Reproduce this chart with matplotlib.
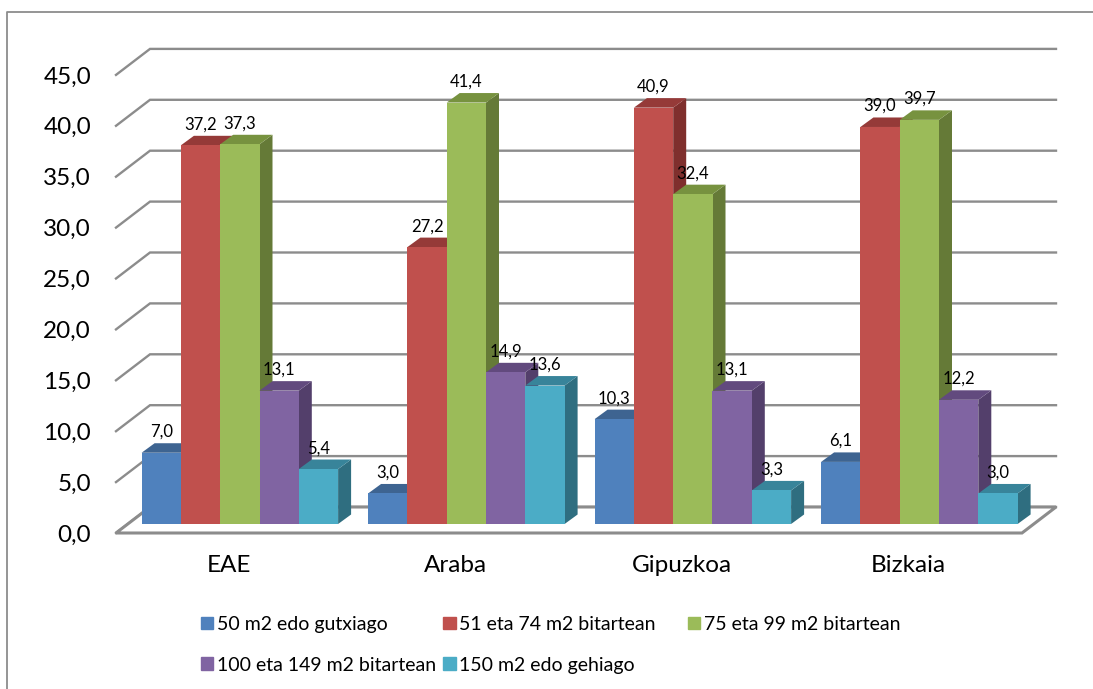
import matplotlib
matplotlib.use("Agg")
import matplotlib.pyplot as plt
import numpy as np
from matplotlib.lines import Line2D
from matplotlib.patches import Polygon, Patch

plt.rcParams['font.family'] = ['Lato', 'DejaVu Sans']

# data
areas = ["EAE", "Araba", "Gipuzkoa", "Bizkaia"]
series_names = ["50 m2 edo gutxiago", "51 eta 74 m2 bitartean", "75 eta 99 m2 bitartean",
                "100 eta 149 m2 bitartean", "150 m2 edo gehiago"]
s50 = [7.0, 3.0, 10.3, 6.1]
s51 = [37.2, 27.2, 40.9, 39.0]
s75 = [37.3, 41.4, 32.4, 39.7]
s100 = [13.1, 14.9, 13.1, 12.2]
s150 = [5.4, 13.6, 3.3, 3.0]
all_series = [s50, s51, s75, s100, s150]
y_ticks = [0, 5, 10, 15, 20, 25, 30, 35, 40, 45]

front = ['#4F81BD', '#C0504D', '#9BBB59', '#8064A2', '#4BACC6']
top = ['#3E6491', '#953A38', '#77923F', '#624A7E', '#38849A']
side = ['#32507A', '#7F2F2D', '#657A37', '#533F6B', '#2F6E80']
grid_col = '#8C8C8C'

W, H = 1093, 689
fig = plt.figure(figsize=(W / 100, H / 100), dpi=100)
ax = fig.add_axes([116 / W, 1 - 533 / H, (1056 - 116) / W, (533 - 49) / H])

# one category = 226.5 px, one value unit = 10.18 px
ux = 226.5
uy = 10.18
ax.set_xlim(-0.5, -0.5 + 940 / ux)
ax.set_ylim(-9 / uy, -9 / uy + 484 / uy)

wall_dx, wall_dy = 34 / ux, 26 / uy      # depth of the whole box
front_gap_x, front_gap_y = 10.6 / ux, 9 / uy  # from front edge of floor to bars
bar_w = 39.3 / ux
bar_dx, bar_dy = 13 / ux, 9.5 / uy

x_left = -0.5
x_right = len(areas) - 0.5
y0 = -front_gap_y

# walls
for v in y_ticks:
    y = v + y0
    ax.plot([x_left, x_left + wall_dx, x_right + wall_dx],
            [y, y + wall_dy, y + wall_dy], color=grid_col, lw=1.7, clip_on=False, zorder=1,
            solid_joinstyle='miter')
# floor
ax.add_patch(Polygon([(x_left, y0), (x_right, y0), (x_right + wall_dx, y0 + wall_dy),
                      (x_left + wall_dx, y0 + wall_dy)], closed=True, fc='white', ec=grid_col,
                     lw=2.2, clip_on=False, zorder=1.5))

# bars, left to right so later ones cover the side of earlier ones
order = 2
for i in range(len(areas)):
    start = i + front_gap_x - 2.5 * bar_w
    for j, vals in enumerate(all_series):
        v = vals[i]
        xl = start + j * bar_w
        xr = xl + bar_w
        ax.add_patch(Polygon([(xr, 0), (xr + bar_dx, bar_dy), (xr + bar_dx, v + bar_dy), (xr, v)],
                             closed=True, fc=side[j], ec='none', zorder=order))
        ax.add_patch(Polygon([(xl, v), (xr, v), (xr + bar_dx, v + bar_dy), (xl + bar_dx, v + bar_dy)],
                             closed=True, fc=top[j], ec='none', zorder=order))
        ax.bar(xl, v, bar_w, align='edge', color=front[j], edgecolor='none',
               zorder=order + 0.5)
        ax.text(xl + bar_w / 2, v + 2.05, ("%.1f" % v).replace('.', ','), ha='center', va='center',
                fontsize=12, color='black', zorder=50)
        order += 1

# axis labels
ax.set_xticks(range(len(areas)))
ax.set_xticklabels(areas, fontsize=17.5)
ax.set_yticks([v + y0 for v in y_ticks])
ax.set_yticklabels([("%.1f" % v).replace('.', ',') for v in y_ticks], fontsize=17.5)
ax.tick_params(axis='x', length=0, pad=16)
ax.tick_params(axis='y', length=0, pad=18)
for s in ax.spines.values():
    s.set_visible(False)
ax.patch.set_alpha(0)

# legend, columns fill downwards so the order is shuffled
# third column is its own legend, the original columns are not evenly spaced
handles = [Patch(color=c) for c in front]
leg_order = [0, 3, 1, 4]
leg_args = dict(loc='upper left', frameon=False, fontsize=14, handlelength=0.64, handleheight=0.64,
                handletextpad=0.2, labelspacing=1.22, borderpad=0.3, borderaxespad=0)
fig.legend([handles[k] for k in leg_order], [series_names[k] for k in leg_order],
           ncol=2, bbox_to_anchor=(195 / W, 1 - 610 / H), columnspacing=0.35, **leg_args)
fig.legend([handles[2]], [series_names[2]], bbox_to_anchor=(682 / W, 1 - 610 / H), **leg_args)

# chart border, only left and top are inside the crop
fig.add_artist(Line2D([7 / W, 7 / W, 1], [0, 1 - 12 / H, 1 - 12 / H], color='#8C8C8C', lw=1.3))

fig.savefig("out.png", dpi=100)
